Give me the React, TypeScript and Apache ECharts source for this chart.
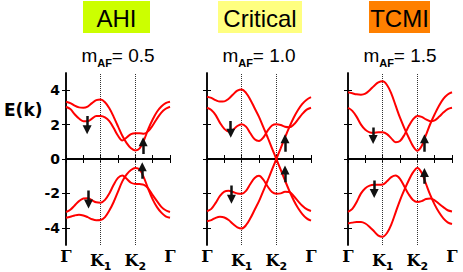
import React, { useEffect, useRef } from 'react';
import * as echarts from 'echarts';

// k-path sampling positions (Γ=0, K1=2, K2=4, Γ=6)
const kPath = [0, 0.25, 0.5, 0.75, 1, 1.25, 1.5, 1.75, 2, 2.25, 2.5, 2.75, 3, 3.25, 3.5, 3.75, 4, 4.25, 4.5, 4.75, 5, 5.25, 5.5, 5.75, 6];
const xTickLabels = ['Γ', 'K1', 'K2', 'Γ'];
const xTickLabelValues = [0, 2, 4, 6];
const yTickValues = [-4, -2, 0, 2, 4];
const panelTitles = ['AHI', 'Critical', 'TCMI'];
const mAFValues = ['0.5', '1.0', '1.5'];

// AHI, m_AF = 0.5
const ahiA = [3.33, 3.25, 3.1, 3.0, 2.98, 3.05, 3.25, 3.42, 3.46, 3.3, 2.95, 2.45, 1.9, 1.35, 0.92, 0.62, 0.5, 0.62, 1.1, 1.75, 2.3, 2.75, 3.05, 3.25, 3.33];
const ahiB = [3.04, 2.9, 2.6, 2.35, 2.2, 2.2, 2.35, 2.5, 2.5, 2.42, 2.2, 1.8, 1.35, 1.08, 1.25, 1.45, 1.5, 1.5, 1.47, 1.62, 1.95, 2.35, 2.7, 2.92, 3.04];
const ahiC = [-3.08, -2.95, -2.7, -2.45, -2.3, -2.28, -2.4, -2.52, -2.54, -2.38, -2.0, -1.5, -1.1, -0.96, -1.15, -1.38, -1.45, -1.46, -1.5, -1.72, -2.1, -2.45, -2.78, -2.98, -3.08];
const ahiD = [-3.42, -3.36, -3.28, -3.24, -3.28, -3.38, -3.5, -3.56, -3.55, -3.38, -3.0, -2.5, -1.9, -1.3, -0.9, -0.64, -0.52, -0.62, -1.1, -1.75, -2.35, -2.8, -3.12, -3.33, -3.42];

// Critical, m_AF = 1.0
const critA = [3.62, 3.55, 3.42, 3.34, 3.35, 3.5, 3.75, 3.97, 4.04, 3.85, 3.45, 2.95, 2.45, 1.85, 1.25, 0.62, 0, -0.62, -1.25, -1.85, -2.4, -2.85, -3.2, -3.45, -3.58];
const critB = [2.98, 2.85, 2.55, 2.1, 1.75, 1.6, 1.7, 1.92, 2.02, 1.88, 1.5, 1.15, 1.05, 1.25, 1.65, 1.95, 2.02, 1.98, 1.88, 1.85, 2.0, 2.3, 2.62, 2.87, 2.98];
const critC = [-3.04, -2.9, -2.55, -2.15, -1.9, -1.85, -1.92, -2.0, -2.02, -1.85, -1.45, -1.1, -0.98, -1.2, -1.6, -1.92, -2.02, -2.0, -1.9, -1.92, -2.15, -2.45, -2.72, -2.92, -3.02];
const critD = [-3.62, -3.55, -3.42, -3.36, -3.4, -3.55, -3.78, -3.97, -4.04, -3.85, -3.45, -2.95, -2.45, -1.85, -1.25, -0.62, 0, 0.62, 1.25, 1.85, 2.4, 2.85, 3.2, 3.45, 3.6];

// TCMI, m_AF = 1.5
const tcmiA = [3.88, 3.82, 3.76, 3.74, 3.8, 4.0, 4.25, 4.45, 4.52, 4.3, 3.8, 3.1, 2.4, 1.8, 1.25, 0.75, 0.48, 0.75, 1.4, 2.05, 2.6, 3.1, 3.5, 3.75, 3.88];
const tcmiB = [2.98, 2.8, 2.45, 2.0, 1.7, 1.55, 1.52, 1.55, 1.55, 1.45, 1.2, 0.98, 1.05, 1.4, 1.9, 2.3, 2.5, 2.45, 2.3, 2.2, 2.25, 2.45, 2.7, 2.9, 2.98];
const tcmiC = [-3.08, -2.9, -2.5, -2.0, -1.7, -1.55, -1.5, -1.5, -1.48, -1.3, -1.05, -0.96, -1.15, -1.6, -2.05, -2.38, -2.5, -2.45, -2.33, -2.3, -2.4, -2.6, -2.8, -2.98, -3.05];
const tcmiD = [-3.75, -3.7, -3.66, -3.66, -3.75, -3.95, -4.2, -4.45, -4.52, -4.3, -3.8, -3.1, -2.4, -1.8, -1.25, -0.78, -0.52, -0.8, -1.45, -2.1, -2.65, -3.1, -3.45, -3.68, -3.78];

// spin arrows: [k, E start, E end]
const ahiArrows = [[1.22, 2.5, 1.7], [4.45, 0.29, 1.0], [4.4, -1.15, -0.45], [1.3, -1.83, -2.62]];
const critArrows = [[1.37, 2.21, 1.5], [4.5, 0.42, 1.18], [4.5, -1.35, -0.64], [1.41, -1.54, -2.34]];
const tcmiArrows = [[1.45, 1.83, 1.13], [4.41, 0.42, 1.18], [4.41, -1.44, -0.78], [1.51, -1.25, -2.0]];

const panelBands = [
  [ahiA, ahiB, ahiC, ahiD],
  [critA, critB, critC, critD],
  [tcmiA, tcmiB, tcmiC, tcmiD],
];
const panelArrows = [ahiArrows, critArrows, tcmiArrows];

const gridLefts = [66, 207, 348];
const gridTop = 73;
const gridW = 104;
const gridH = 174;
const titleBoxes = [
  { x: 83, w: 67, color: '#ccff00' },
  { x: 218, w: 84, color: '#ffff80' },
  { x: 369, w: 61, color: '#ff8000' },
];

export default function App() {
  const ref = useRef<HTMLDivElement>(null);
  useEffect(() => {
    if (!ref.current) return;
    const chart = echarts.init(ref.current, undefined, { renderer: 'svg' });

    const grids: any[] = [];
    const xAxes: any[] = [];
    const yAxes: any[] = [];
    const series: any[] = [];
    const graphics: any[] = [];

    const axisLine = { show: true, lineStyle: { color: '#000', width: 1.5 } };
    const tickStyle = { show: true, inside: true, length: 4, lineStyle: { color: '#000', width: 1 } };

    panelBands.forEach((bands, i) => {
      grids.push({ left: gridLefts[i], top: gridTop, width: gridW, height: gridH, containLabel: false });
      xAxes.push({
        type: 'value', gridIndex: i, min: 0, max: 6, interval: 1, position: 'bottom',
        axisLine, axisTick: tickStyle, splitLine: { show: false },
        axisLabel: {
          show: true, margin: 3, showMinLabel: true, showMaxLabel: true,
          formatter: (v: number) => {
            const idx = xTickLabelValues.indexOf(v);
            if (idx < 0) return '';
            const t = xTickLabels[idx];
            return t.length > 1 ? `{g|${t[0]}}{s|${t.slice(1)}}` : `{g|${t}}`;
          },
          rich: {
            g: { fontFamily: 'DejaVu Serif', fontWeight: 'bold', fontSize: 16, color: '#000' },
            s: { fontFamily: 'DejaVu Sans', fontWeight: 'bold', fontSize: 11, color: '#000', padding: [13, 0, 0, 0] },
          },
        },
      });
      xAxes.push({
        type: 'value', gridIndex: i, min: 0, max: 6, interval: 1, position: 'top',
        axisLine, axisTick: tickStyle, axisLabel: { show: false }, splitLine: { show: false },
      });
      yAxes.push({
        type: 'value', gridIndex: i, min: -5, max: 5, interval: 1, position: 'left',
        axisLine, splitLine: { show: false },
        axisTick: { ...tickStyle, customValues: yTickValues },
        axisLabel: {
          show: i === 0, margin: 6, customValues: yTickValues,
          fontFamily: 'DejaVu Sans', fontWeight: 'bold', fontSize: 14, color: '#000',
        },
      });
      yAxes.push({
        type: 'value', gridIndex: i, min: -5, max: 5, interval: 1, position: 'right',
        axisLine, splitLine: { show: false },
        axisTick: { ...tickStyle, customValues: yTickValues },
        axisLabel: { show: false },
      });

      bands.forEach((band, b) => {
        const s: any = {
          type: 'line', xAxisIndex: 2 * i, yAxisIndex: 2 * i,
          data: band.map((e, k) => [kPath[k], e]),
          smooth: 0.35, showSymbol: false, symbol: 'none',
          lineStyle: { color: '#ff0000', width: 2 },
          z: 3,
        };
        if (b === 0) {
          s.markLine = {
            silent: true, symbol: 'none', label: { show: false },
            data: [
              { xAxis: xTickLabelValues[1], lineStyle: { type: 'dotted', color: '#333', width: 1 } },
              { xAxis: xTickLabelValues[2], lineStyle: { type: 'dotted', color: '#333', width: 1 } },
              { yAxis: 0, lineStyle: { type: 'solid', color: '#000', width: 1.5 } },
            ],
            z: 2,
          };
        }
        series.push(s);
      });

      series.push({
        type: 'lines', coordinateSystem: 'cartesian2d', xAxisIndex: 2 * i, yAxisIndex: 2 * i,
        symbol: ['none', 'triangle'], symbolSize: 9,
        lineStyle: { color: '#111', width: 2.5, opacity: 1 },
        data: panelArrows[i].map(a => ({ coords: [[a[0], a[1]], [a[0], a[2]]] })),
        z: 5,
      });

      const cx = gridLefts[i] + gridW / 2;
      const box = titleBoxes[i];
      graphics.push({ type: 'rect', shape: { x: box.x, y: 1, width: box.w, height: 32 }, style: { fill: box.color } });
      graphics.push({
        type: 'text', x: box.x + box.w / 2, y: 18,
        style: { text: panelTitles[i], fill: '#000', font: '24px "Liberation Sans", Arial, sans-serif', align: 'center', verticalAlign: 'middle', textAlign: 'center', textVerticalAlign: 'middle' },
      });
      graphics.push({
        type: 'text', x: cx, y: 55,
        style: {
          text: `{m|m}{s|AF}{e|= ${mAFValues[i]}}`,
          align: 'center', verticalAlign: 'middle', textAlign: 'center', textVerticalAlign: 'middle',
          rich: {
            m: { fontSize: 19, fontFamily: 'Liberation Sans', fill: '#000', color: '#000' },
            s: { fontSize: 11, fontFamily: 'Liberation Sans', fontWeight: 'bold', fill: '#000', color: '#000', padding: [15, 0, 0, 0] },
            e: { fontSize: 19, fontFamily: 'Liberation Sans', fill: '#000', color: '#000' },
          },
        },
      });
    });

    graphics.push({
      type: 'text', x: 4, y: 110,
      style: { text: 'E(k)', fill: '#000', font: 'bold 17px "DejaVu Sans", sans-serif', align: 'left', verticalAlign: 'middle', textAlign: 'left', textVerticalAlign: 'middle' },
    });

    chart.setOption({
      animation: false,
      backgroundColor: '#fff',
      grid: grids,
      xAxis: xAxes,
      yAxis: yAxes,
      series,
      graphic: graphics,
    });
    return () => chart.dispose();
  }, []);
  return <div ref={ref} style={{ position: 'absolute', left: 0, top: 0, width: 463, height: 272 }} />;
}
